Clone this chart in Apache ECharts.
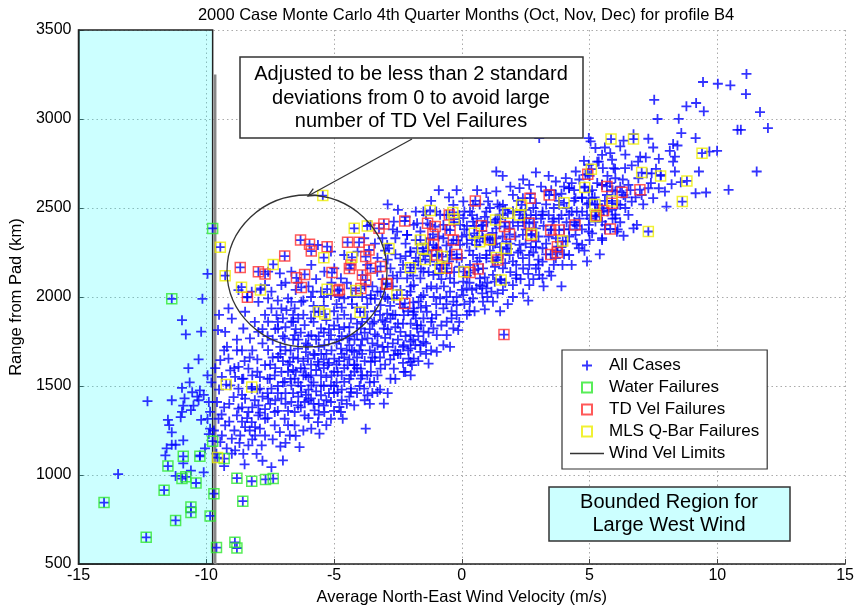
<!DOCTYPE html>
<html>
<head>
<meta charset="utf-8">
<title>2000 Case Monte Carlo 4th Quarter</title>
<script src="https://cdn.jsdelivr.net/npm/echarts@6/dist/echarts.min.js"></script>
<style>
html, body { margin: 0; padding: 0; background: #fff; }
#main { width: 857px; height: 611px; }
</style>
</head>
<body>
<div id="main"></div>
<script>
// axes
var xMin = -15, xMax = 15, xStep = 5;
var yMin = 500, yMax = 3500, yStep = 500;

// bounded west-wind region and wind limit line
var boundedRegionX = [-15, -9.75];
var windVelLimit = [[-9.65, 500], [-9.65, 3250]];

// all cases (points that are not also a failure)
var allCasesOnly = [
  // inside bounded region
  [-12.3,1415],[-13.45,1005],[-11.35,1420],[-10.95,1490],[-10.65,1520],[-10.55,1465],[-10.35,1440],[-10.25,1475],
  [-10.9,1390],[-10.95,1355],[-10.6,1365],[-10.5,1390],[-10.2,1310],[-9.95,1315],[-9.85,1355],[-9.9,1410],
  [-10.1,1450],[-11.5,1310],[-11.45,1280],[-11.35,1240],[-11.55,1150],[-11.35,1170],[-11.2,1170],[-11.6,1110],
  [-10.9,1195],[-10.9,1065],[-10.6,1025],[-10.1,1015],[-10.25,1110],[-11.0,1325],[-9.8,1520],[-10.3,1420],
  [-10.85,1430],[-11.2,995],[-10.95,1870],[-10.8,1790],[-10.2,1805],[-10.15,1990],[-9.95,2130],[-10.7,1600],
  [-10.3,1650],[-10.05,1150],[-9.9,1230],[-9.85,1260],[-9.95,1560],
  // left part of the cloud
  [-9.54,1814],[-9.26,1804],[-9.19,1720],[-9.45,1645],[-9.06,1588],[-9.39,1551],[-8.87,1551],[-9.58,1410],
  [-8.93,1438],[-8.8,1335],[-9.26,1279],[-9.45,1185],[-9.0,1204],[-8.67,1222],[-8.55,1119],[-8.03,1119],
  [-7.45,1044],[-7.0,1082],[-8.48,1269],[-8.09,1269],[-8.35,1354],[-8.74,1373],[-7.96,1391],[-8.48,1429],
  [-9.13,1654],[-8.74,1607],[-8.35,1598],[-8.55,1823],[-8.29,1767],[-7.96,1804],[-7.58,1861],[-7.25,1898],
  [-7.45,1936],[-6.86,1926],[-6.54,1936],[-6.6,1861],[-6.15,1842],[-6.93,1767],[-7.58,1701],[-7.19,1663],
  [-7.7,1617],[-7.32,1560],[-6.73,1635],[-6.41,1710],[-6.02,1729],[-5.76,1673],[-6.15,1598],[-6.54,1541],
  [-6.93,1523],[-7.45,1485],[-7.06,1429],[-6.67,1410],[-6.28,1466],[-5.89,1504],[-5.51,1560],[-5.25,1617],
  [-4.99,1654],[-4.73,1710],[-4.47,1767],[-5.12,1786],[-5.51,1823],[-4.86,1879],[-4.34,1879],[-3.95,1823],
  [-3.69,1767],[-3.43,1861],[-3.05,1823],[-2.79,1879],[-2.4,1804],[-2.27,1729],[-1.88,1654],[-2.66,1673],
  [-3.05,1692],[-3.56,1635],[-3.95,1598],[-4.34,1560],[-4.6,1523],[-4.86,1466],[-5.12,1410],[-5.38,1354],
  [-5.63,1297],[-6.15,1335],[-6.41,1391],[-6.54,1279],[-6.93,1316],[-7.32,1354],[-7.7,1316],[-8.09,1222],
  [-7.7,1222],[-7.12,1241],[-6.73,1222],[-6.35,1157],[-5.57,1232],[-4.73,1354],[-4.34,1466],[-3.76,1260],
  [-3.05,1401],[-3.82,1485],[-3.43,1523],[-3.3,1466],[-2.79,1541],[-2.27,1579],[-2.01,1635],[-3.69,1448],
  [-4.21,1391],[-4.66,1316],[-5.12,1316],[-4.79,1382],[-6.15,1410],[-5.76,1363],[-7.83,1166],[-8.35,1166],
  [-8.87,1138],[-9.39,1222],[-9.52,1316],[-5.76,1917],[-6.28,1973],[-6.8,1992],[-7.45,2030],[-7.96,1973],
  [-8.48,1917],[-9.0,1879],[-9.13,1936],[-7.19,1823],[-6.54,1786],[-5.89,1786],[-5.38,1729],[-4.21,1692],
  [-3.95,1729],[-3.3,1729],[-3.82,1917],[-3.18,1954],[-2.66,1992],[-2.14,2011],[-1.88,1917],[-1.75,1823],
  [-1.62,1729],[-2.27,1898],[-2.92,1907],[-4.6,1992],[-4.34,2048],[-3.56,2011],[-5.12,2011],[-5.51,2030],
  [-7.06,2067],[-7.7,2067],[-8.74,2039],[-6.67,1861],[-5.63,1635],[-4.86,1579],[-4.21,1617],[-6.02,1654],
  [-6.41,1654],[-5.51,1504],[-6.67,1504],[-7.06,1579],[-7.51,1541],[-7.9,1485],[-8.22,1485],[-8.55,1541],
  [-8.74,1485],[-9.06,1504],[-7.58,1429],[-7.96,1335],[-8.22,1297],[-7.32,1279],[-6.54,1354],[-5.89,1260],
  [-5.51,1448],[-5.12,1504],[-4.47,1617],[-3.95,1541],[-3.56,1579],[-4.34,1485],[-3.18,1598],[-2.66,1598],
  [-6.3,1600],[-6.8,1580],[-7.2,1500],[-6.4,1520],[-5.9,1560],[-5.7,1590],[-6.1,1690],[-6.7,1700],
  [-7.0,1640],[-5.3,1680],[-5.0,1580],[-4.8,1640],[-4.5,1700],[-4.1,1660],[-3.8,1640],[-3.6,1700],
  [-3.2,1660],[-2.9,1720],[-2.5,1760],[-2.2,1780],[-2.0,1850],[-2.5,1850],[-3.0,1770],[-3.4,1790],
  [-3.8,1800],[-4.2,1760],[-4.6,1830],[-5.0,1840],[-5.3,1870],[-4.1,1940],[-3.4,1920],[-2.8,1950],
  [-2.4,1960],[-1.9,1970],[-1.5,1880],[-1.3,1800],[-1.4,1950],[-1.1,2000],[-5.9,1430],[-5.4,1390],
  [-6.9,1460],[-7.3,1420],[-7.7,1370],[-8.1,1420],[-7.9,1550],[-8.0,1650],[-7.4,1760],[-6.9,1830],
  [-6.3,1800],[-5.7,1760],[-5.2,1760],[-4.9,1740],[-4.4,1830],[-3.7,1880],[-3.1,1870],[-2.6,1830],
  [-9.5,1480],[-9.3,1380],[-9.1,1300],[-8.9,1250],[-9.6,1120],[-9.2,1150],[-8.7,1180],[-8.4,1320],
  [-8.2,1380],[-8.6,1450],[-8.9,1600],[-8.6,1700],[-8.3,1660],[-8.0,1580],[-7.8,1440],[-7.6,1320],
  [-7.4,1200],[-7.9,1260],[-8.2,1200],[-7.5,1620],[-7.8,1740],[-8.1,1860],[-8.8,1760],[-9.3,1700],
  [-9.5,1900],[-8.4,2000],[-7.7,1900],[-7.3,1820],[-7.1,1720],[-7.4,1660],[-7.6,1460],[-7.2,1360],
  [-7.1,1160],[-7.8,1080],[-8.5,1060],[-9.3,1050],[-9.7,1250],[-9.65,1600],
  [-6.9,1180],[-6.5,1220],[-6.2,1250],[-6.0,1320],[-6.8,1360],[-6.4,1440],[-6.0,1480],[-5.8,1400],
  [-5.6,1340],[-5.3,1280],[-5.0,1360],[-4.7,1420],[-4.5,1400],[-4.9,1520],[-5.3,1550],[-5.6,1620],
  [-5.9,1620],[-6.2,1560],[-6.6,1660],[-6.9,1700],[-6.4,1760],[-6.0,1780],[-5.6,1720],[-5.4,1800],
  [-5.1,1700],[-4.7,1780],[-4.4,1730],[-4.2,1580],[-4.0,1500],[-4.6,1600],[-4.9,1620],[-5.2,1460],
  [-5.7,1470],[-6.3,1380],[-6.8,1280],[-7.0,1520],[-6.2,1900],[-5.9,1880],[-5.4,1950],[-5.0,1920],
  [-4.6,1900],[-4.3,1960],[-4.8,2000],[-6.5,2040],[-6.0,2060],[-7.2,1980],[-6.9,2080],[-5.7,2100],
  [-5.1,2080],[-4.5,2080],[-4.0,1700],[-4.1,1850],[-4.7,1940],[-5.8,1950],[-6.6,1900],[-6.2,1980],
  [-6.0,1550],[-5.5,1680],[-5.0,1500],[-4.4,1650],[-6.6,1590],[-6.1,1450],[-5.4,1600],[-4.8,1760],
  [-4.1,1790],
  [-8.8,1700],[-8.5,1640],[-8.2,1560],[-8.6,1380],[-8.3,1250],[-7.9,1350],[-7.5,1400],[-7.3,1600],
  [-7.6,1780],[-7.0,1780],[-6.8,1620],[-6.5,1580],[-6.2,1640],[-5.8,1680],[-5.4,1650],[-5.1,1560],
  [-4.7,1560],[-4.4,1540],[-4.1,1600],[-3.7,1560],[-3.4,1640],[-3.1,1720],[-2.7,1740],[-2.3,1720],
  [-2.0,1750],[-3.9,1680],[-4.3,1700],[-4.7,1680],[-5.2,1630],[-5.6,1780],[-6.1,1740],[-6.5,1820],
  [-7.0,1880],[-6.4,1880],[-5.8,1860],[-5.2,1820],[-4.8,1820],[-4.4,1780],[-3.9,1760],[-3.5,1850],
  [-3.0,1860],[-2.7,1900],[-2.3,1940],[-1.9,1900],[-1.6,1940],[-2.9,1990],[-3.3,2030],[-3.8,2060],
  [-4.3,2000],[-4.9,1960],[-5.4,2000],[-5.9,2000],[-6.4,2080],[-7.2,1860],[-7.8,1820],[-8.2,1700],
  [-8.6,1540],[-9.1,1400],[-9.4,1340],[-9.0,1120],[-8.6,1300],[-8.0,1480],[-7.6,1540],[-7.2,1460],
  [-6.9,1400],[-6.6,1460],[-6.3,1500],[-6.0,1420],[-5.6,1400],[-5.3,1420],[-5.0,1460],[-4.7,1480],
  [-4.4,1440],[-4.1,1460],[-3.8,1420],[-3.5,1460],[-5.8,1520],[-5.4,1500],[-6.1,1560],[-6.7,1540],
  [-7.1,1680],[-6.6,1760],[-4.6,1660],[-4.2,1620],[-3.4,1690],[-2.5,1680],
  // upper band inside / right of the circle
  [-7.87,2048],[-8.22,2030],[-7.58,1992],[-7.12,2133],[-6.67,2142],[-5.89,2180],[-5.63,2292],[-5.12,2255],
  [-5.38,2142],[-4.99,2161],[-4.73,2105],[-5.83,2030],[-6.67,1973],[-7.06,1936],[-4.6,2236],[-4.08,2255],
  [-3.82,2330],[-3.57,2405],[-3.11,2330],[-2.92,2292],[-2.66,2424],[-2.53,2367],[-2.14,2349],[-1.75,2414],
  [-1.5,2255],[-2.01,2255],[-2.4,2217],[-2.79,2161],[-3.31,2142],[-3.18,2030],[-3.57,1992],[-2.53,2105],
  [-2.01,2142],[-1.5,2142],[-0.98,2180],[-0.46,2236],[-0.07,2405],[0.32,2480],[0.57,2292],[0.96,2236],
  [1.35,2330],[1.48,2508],[2.0,2480],[2.39,2442],[3.16,2480],[3.68,2574],[4.2,2611],[4.46,2705],
  [4.97,2743],[5.36,2761],[4.07,2668],[4.97,2893],[5.23,2837],[3.03,2893],[1.35,2705],[-7.58,2142],
  // middle of the cloud
  [-3.9,1560],[-3.6,1520],[-3.3,1560],[-3.0,1620],[-2.8,1650],[-2.6,1700],[-2.4,1680],[-2.1,1700],
  [-1.9,1760],[-1.7,1780],[-1.4,1740],[-1.2,1700],[-3.5,1660],[-3.3,1780],[-3.6,1820],[-3.9,1860],
  [-3.2,1900],[-2.9,1820],[-2.6,1900],[-2.3,1850],[-2.1,1920],[-1.8,1880],[-1.6,1840],[-1.2,1860],
  [-1.0,1900],[-1.6,2000],[-2.0,2060],[-2.4,2040],[-2.7,2060],[-3.0,2000],[-3.4,1990],[-3.7,1960],
  [-3.9,2000],[-3.5,2060],[-3.1,2100],[-2.7,2120],[-2.3,2180],[-1.9,2120],[-1.7,2200],[-1.3,2140],
  [-1.2,2060],[-0.8,2100],[-0.9,2240],[-1.3,2260],[-3.7,2180],[-3.3,2220],[-2.9,2210],[-2.2,2230],
  [-3.5,1740],[-2.8,1790],[-2.3,1630],[-2.6,1540],[-3.2,1480],[-3.6,1400],[-2.9,1460],[-2.0,1560],
  [-1.7,1640],[-1.4,1680],
  [-2.6,2240],[-2.2,2300],[-1.8,2320],[-1.4,2300],[-1.0,2280],[-0.6,2290],[-0.2,2320],[0.2,2300],
  [0.6,2340],[1.0,2330],[1.3,2300],[1.8,2270],[2.2,2250],[2.7,2280],[3.3,2300],[3.7,2260],
  [4.0,2240],[-1.8,2220],[-1.2,2230],[-0.5,2200],[0.0,2220],[0.6,2200],[1.2,2200],[1.7,2190],
  [2.4,2160],[3.0,2180],[-2.4,2140],[-1.6,2160],[-0.9,2130],[-0.3,2140],[0.3,2080],[0.8,2060],
  [1.5,2100],[2.0,2000],[1.0,2000],[0.0,2040],[-0.6,2000],[-1.0,1960],[-0.4,1920],[0.3,1920],
  [2.8,2100],[3.2,2060],[-3.4,2300],[-3.0,2260],[-2.6,2330],[0.1,2380],[0.5,2400],[0.9,2450],
  [1.3,2420],[1.6,2460],[2.0,2420],[2.4,2420],[2.7,2460],[3.1,2440],[3.5,2380],[3.9,2460],
  [4.3,2480],[4.6,2440],[4.1,2420],[4.9,2520],[5.2,2560],[5.0,2440],[5.4,2460],[5.7,2480],
  [6.1,2520],[6.4,2560],[6.2,2620],[5.8,2640],[4.8,2620],[4.4,2540],[3.8,2540],[3.3,2520],
  [2.8,2500],[2.3,2480],[1.4,2520],[0.7,2520],[-0.1,2460],[-0.6,2460],[-1.4,2460],[-2.2,2450],
  [-2.7,2380],[4.5,2400],[4.2,2380],[3.6,2440],[5.6,2380],[6.1,2380],
  [0.96,2584],[0.06,2537],[1.61,2518],[2.26,2612],[2.9,2527],[3.29,2593],[3.68,2649],[4.2,2612],
  [4.45,2555],[4.97,2593],[5.49,2630],[6.01,2593],[3.81,2518],[4.2,2462],[4.71,2480],[5.23,2424],
  [5.62,2405],[4.97,2368],[4.45,2349],[4.07,2311],[4.71,2293],[5.49,2330],[3.16,2462],[2.9,2386],
  [2.52,2443],[2.0,2480],[1.48,2462],[0.96,2480],[0.44,2424],[0.06,2443],[-0.33,2518],[-0.85,2462],
  [-1.5,2480],[-1.88,2405],[-2.14,2349],[-1.75,2274],[-1.24,2330],[-0.72,2330],[-0.07,2293],[0.19,2349],
  [0.83,2330],[1.22,2293],[1.74,2311],[2.26,2293],[2.64,2236],[3.16,2274],[3.16,2199],[2.64,2180],
  [2.13,2180],[1.61,2161],[0.96,2218],[0.44,2236],[-0.2,2218],[-0.72,2180],[-1.24,2199],[-1.88,2180],
  [-2.14,2105],[-1.62,2105],[-1.11,2124],[-0.46,2105],[0.06,2086],[0.71,2105],[1.22,2124],[2.13,2124],
  [2.64,2067],[-2.01,2030],[-1.5,2011],[-0.98,2049],[-0.46,2030],[0.06,2011],[0.57,2049],[1.22,1974],
  [-1.88,1936],[-1.37,1917],[-0.72,1936],[-0.2,1955],[-1.75,1842],[-1.11,1823],[-0.59,1861],[-2.01,1786],
  [-1.5,1748],[-0.98,1786],[-0.33,1823],[-2.01,1711],[-0.72,1729],[-2.08,1654],[-1.62,1692],[-2.21,1579],
  [2.0,2067],[3.16,2105],[3.42,2142],[3.68,2218],[3.94,2180],[4.2,2236],[4.58,2274],[3.03,2124],
  [1.61,2039],[0.96,2049],[0.32,1974],[0.83,1974],[-0.2,1898],[6.01,2462],[5.49,2499],[4.97,2527],
  [3.55,2424],[3.68,2330],[2.39,2349],[1.87,2386],[1.35,2386],[0.83,2405],[-0.72,2405],[-1.24,2405],
  [-1.62,2368],[-0.98,2274],[-0.46,2255],[0.32,2180],[0.83,2161],[-1.5,2236],[-2.01,2255],[1.87,2236],
  [2.39,2218],[2.9,2311],[2.0,2574],[2.39,2555],[1.35,2593],[1.03,2537],[0.44,2518],[2.64,2630],
  [-1.88,2067],[-1.37,2049],[-0.85,1992],[-0.33,1974],[-1.69,1974],[-1.17,1880],[-0.59,1786],[-0.14,1814],
  [-1.5,1805],[-1.82,1730],[-0.98,1692],[-1.3,1626],[-0.46,1720],[-1.95,1617],[0.19,2049],[0.44,1992],
  [1.16,2030],[2.13,2105],[1.29,2086],[0.71,2067],
  [-0.8,1840],[-0.4,1880],[-0.1,1860],[0.2,1900],[0.5,1920],[0.9,1930],[-0.6,1960],[-0.2,2000],
  [0.1,1960],[0.4,2040],[0.8,2020],[1.0,2080],[1.4,2020],[1.7,2080],[1.9,2140],[2.3,2100],
  [2.6,2130],[2.9,2160],[2.4,2020],[1.8,1960],[1.5,1920],[-0.7,2060],[-0.3,2080],[0.2,2120],
  [0.5,2150],[0.9,2110],[1.3,2170],[1.6,2240],[2.0,2200],[2.3,2260],[2.8,2250],[3.0,2210],
  [-0.6,2140],[-0.1,2170],[0.3,2260],[0.7,2220],[1.1,2260],[1.5,2280],[1.9,2300],[2.5,2300],
  [2.9,2280],[-0.4,2300],[0.0,2340],[0.4,2320],[0.8,2370],[1.2,2360],[1.6,2340],[2.1,2340],
  [2.5,2380],[2.8,2420],[3.2,2400],[3.4,2340],[3.0,2340],[0.2,2400],[0.6,2440],[1.0,2420],
  [1.4,2440],[1.7,2420],[2.2,2400],[-0.6,2380],[-0.9,2340],[-0.3,2420],[0.4,2460],[1.1,2500],
  [1.7,2490],[2.5,2490],[2.9,2460],[3.4,2460],[3.6,2500],[-1.0,2480],[-0.5,2560],[0.1,2480],
  [2.2,2540],[2.7,2580],[3.1,2620],[3.5,2600],[3.9,2580],[4.3,2640],[3.4,2680],[2.9,2700],
  [2.4,2660],[1.9,2620],[0.6,2600],[-0.2,2600],[-1.2,2540],[-1.8,2480],[-2.5,2490],[-2.9,2520],
  [-0.9,2600],[1.6,2680],
  [3.3,2240],[3.6,2180],[3.9,2280],[4.2,2340],[4.5,2300],[4.8,2260],[5.0,2320],[4.4,2420],
  [4.7,2380],[4.0,2380],[3.8,2440],[4.1,2500],[4.5,2480],[4.9,2460],[5.3,2520],[5.6,2540],
  [5.9,2440],[6.2,2420],[6.4,2500],[5.1,2600],[4.7,2560],[4.4,2600],[4.0,2620],[4.6,2660],
  [5.0,2680],[5.3,2640],[5.7,2680],[6.0,2720],[6.3,2660],[6.6,2600],[6.8,2560],[7.1,2520],
  [7.4,2640],[7.6,2720],[6.9,2760],[6.4,2800],[5.6,2840],[5.3,2760],[5.9,2600],[4.3,2180],
  [4.9,2200],[5.4,2240],[3.5,2120],[3.9,2060],[2.6,1980],
  // right part of the cloud
  [11.14,3253],[9.44,3208],[10.02,3198],[10.51,3189],[11.12,3140],[7.53,3108],[8.79,3071],[9.17,3090],
  [9.47,3043],[11.67,3039],[7.66,3000],[8.49,3001],[10.79,2939],[10.92,2939],[11.98,2949],[8.59,2921],
  [6.72,2915],[7.3,2889],[9.15,2893],[6.33,2878],[5.04,2874],[6.2,2846],[7.49,2840],[8.27,2859],
  [8.44,2851],[9.69,2817],[9.99,2821],[8.14,2821],[6.98,2789],[7.71,2776],[8.34,2789],[7.2,2784],
  [5.88,2771],[4.78,2765],[8.27,2761],[9.28,2705],[11.54,2705],[5.52,2724],[6.65,2739],[6.39,2724],
  [7.43,2695],[7.79,2686],[8.21,2634],[8.57,2645],[7.71,2611],[9.15,2583],[9.56,2587],[10.44,2602],
  [7.49,2555],[8.01,2508],[6.85,2405],[6.33,2344],[5.49,2320],[5.1,2358],[6.52,2461],[6.01,2442],
  [5.49,2423],[4.97,2405],[6.65,2536],[6.2,2517],[6.91,2667],[7.3,2611],[6.52,2630],[6.01,2667],
  [5.49,2630],[5.1,2555],[5.68,2573],[5.23,2480],[5.88,2489],[6.33,2573],[7.04,2573],[7.24,2695],
  [7.95,2592],[8.34,2705],[5.81,2808],[5.49,2799],[5.94,2724],[4.84,2686],[6.72,2386],[6.07,2367],
  [4.71,2555]
];

var waterFailures = [
  [-14.0,845],[-12.35,650],[-11.65,915],[-11.2,745],[-10.6,820],[-10.6,790],[-10.4,955],[-10.95,980],
  [-10.8,990],[-11.5,1050],[-10.9,1105],[-10.25,1105],[-9.85,770],[-9.7,895],[-9.6,592],[-9.75,1190],
  [-8.88,622],[-8.8,590],[-8.8,982],[-8.22,965],[-7.68,975],[-7.38,980],[-8.57,853],[-9.3,1092],
  [-11.35,1990],[-9.75,2385]
];

var tdVelFailures = [
  [-8.67,2166],[-8.39,1998],[-7.96,2142],[-7.7,2129],[-6.93,2230],[-6.47,2108],[-6.15,2127],[-6.31,2320],
  [-5.96,2296],[-5.89,2258],[-6.28,2054],[-5.27,2283],[-5.08,2137],[-4.79,2042],[-4.47,2307],[-4.02,2307],
  [-4.34,2180],[-4.4,2160],[-3.76,2227],[-3.63,2264],[-3.89,2123],[-3.76,2095],[-3.57,2161],[-3.18,2172],
  [-3.24,2386],[-3.05,2410],[-2.92,2076],[-2.23,2427],[-2.23,1964],[-1.34,2414],[-1.04,2396],[-1.13,2352],
  [-1.11,2292],[-0.98,2236],[-0.49,2461],[-0.46,2376],[-0.33,2320],[-0.2,2239],[-0.59,2161],[0.53,2540],
  [0.77,2400],[1.12,2323],[0.64,2157],[0.32,2137],[1.67,2396],[1.87,2352],[1.41,2208],[2.67,2555],
  [2.64,2414],[2.71,2346],[3.42,2573],[3.48,2376],[3.81,2376],[3.74,2283],[3.48,2239],[3.74,2250],
  [4.43,2405],[5.27,2458],[5.55,2486],[5.68,2621],[5.88,2527],[5.81,2382],[1.65,1789],[4.93,2690],
  [6.27,2588],[6.97,2603],[-4.86,2035],[-3.95,2048],[-2.95,2071]
];

var mlsQBarFailures = [
  [-9.26,2120],[-8.62,2055],[-7.88,2040],[-7.38,2183],[-5.44,2570],[-5.4,2221],[-4.3,2223],[-4.21,2386],
  [-3.7,2399],[-5.27,2044],[-4.15,2036],[-3.98,1915],[-5.6,1917],[-5.36,1904],[-2.85,2273],[-2.54,2011],
  [-1.62,2320],[-1.53,2273],[-1.24,2486],[-1.43,2210],[-0.76,2227],[-0.35,2475],[-0.3,2438],[0.49,2358],
  [0.7,2311],[1.08,2322],[1.32,2433],[1.35,2222],[1.54,2095],[1.8,2470],[2.34,2517],[2.26,2461],
  [2.74,2354],[4.0,2529],[3.95,2314],[4.81,2615],[5.21,2519],[5.23,2452],[5.88,2540],[-0.85,2161],
  [0.08,2142],[1.74,2273],[-2.01,2165],[5.84,2887],[6.72,2887],[5.07,2718],[7.04,2699],[7.78,2680],
  [8.81,2652],[9.4,2808],[8.63,2536],[7.3,2368],[-9.56,1098],[-9.45,2280],[-9.22,1508],[-8.22,1495]
];

var allCases = allCasesOnly.concat(waterFailures, tdVelFailures, mlsQBarFailures);

var fontFam = '"Liberation Sans", Arial, sans-serif';
var plusSymbol = 'path://M4.1,0h1.8v4.1h4.1v1.8h-4.1v4.1h-1.8v-4.1h-4.1v-1.8h4.1z';
var squareSymbol = 'path://M0,0h10v10h-10z';
var lineIcon = 'path://M0,0h40v1.6h-40z';

function squareSeries(name, data, color) {
  return {
    name: name,
    type: 'scatter',
    data: data,
    symbol: squareSymbol,
    symbolSize: 10,
    itemStyle: { color: 'rgba(0,0,0,0)', borderColor: color, borderWidth: 1.5 },
    z: 4
  };
}

function plainNum(v) { return String(v); }

var chart = echarts.init(document.getElementById('main'));
var option = {
  animation: false,
  title: {
    text: '2000 Case Monte Carlo 4th Quarter Months (Oct, Nov, Dec) for profile B4',
    left: 461,
    top: 2,
    textAlign: 'center',
    textStyle: { fontSize: 16.5, fontWeight: 'normal', color: '#000', fontFamily: fontFam }
  },
  grid: { left: 76, right: 11, top: 30, bottom: 47 },
  legend: {
    left: 562,
    top: 350,
    orient: 'vertical',
    padding: [6, 8, 6, 8],
    itemGap: 3,
    itemWidth: 34,
    itemHeight: 10,
    borderColor: '#333',
    borderWidth: 1.2,
    backgroundColor: '#fff',
    textStyle: { fontSize: 17, lineHeight: 19, color: '#000', fontFamily: fontFam },
    data: ['All Cases', 'Water Failures', 'TD Vel Failures', 'MLS Q-Bar Failures',
      { name: 'Wind Vel Limits', icon: lineIcon, itemStyle: { color: '#333', borderWidth: 0 } }]
  },
  xAxis: {
    type: 'value',
    min: xMin, max: xMax, interval: xStep,
    name: 'Average North-East Wind Velocity (m/s)',
    nameLocation: 'middle',
    nameGap: 25,
    nameTextStyle: { fontSize: 16.5, color: '#000', fontFamily: fontFam },
    axisLine: { onZero: false, lineStyle: { color: '#222', width: 1.5 } },
    axisTick: { inside: true, length: 5, lineStyle: { color: '#444' } },
    axisLabel: { fontSize: 16, color: '#000', margin: 4, fontFamily: fontFam, formatter: plainNum },
    splitLine: { show: true, lineStyle: { color: '#aaa', type: [1.5, 3], width: 1 } }
  },
  yAxis: {
    type: 'value',
    min: yMin, max: yMax, interval: yStep,
    name: 'Range from Pad (km)',
    nameLocation: 'middle',
    nameGap: 46,
    nameTextStyle: { fontSize: 16.5, color: '#000', fontFamily: fontFam },
    axisLine: { show: true, onZero: false, lineStyle: { color: '#222', width: 1.5 } },
    axisTick: { show: true, inside: true, length: 5, lineStyle: { color: '#444' } },
    axisLabel: { fontSize: 16, color: '#000', margin: 7, fontFamily: fontFam, formatter: plainNum },
    splitLine: { show: true, lineStyle: { color: '#aaa', type: [1.5, 3], width: 1 } }
  },
  series: [
    {
      name: 'Wind Vel Limits',
      type: 'line',
      data: windVelLimit,
      symbol: 'none',
      lineStyle: { color: '#888', width: 2.5 },
      z: 1,
      markArea: {
        silent: true,
        itemStyle: { color: 'rgba(0,255,255,0.2)', borderColor: '#222', borderWidth: 1.5 },
        data: [[{ xAxis: boundedRegionX[0], yAxis: yMin }, { xAxis: boundedRegionX[1], yAxis: yMax }]]
      }
    },
    {
      name: 'All Cases',
      type: 'scatter',
      data: allCases,
      symbol: plusSymbol,
      symbolSize: 10,
      itemStyle: { color: '#0000ff', opacity: 0.8 },
      z: 3
    },
    squareSeries('Water Failures', waterFailures, '#2ee82e'),
    squareSeries('TD Vel Failures', tdVelFailures, '#ff3030'),
    squareSeries('MLS Q-Bar Failures', mlsQBarFailures, '#eeee00')
  ],
  graphic: [
    // call-out text box
    {
      type: 'rect', z: 20,
      shape: { x: 240, y: 57, width: 343, height: 81 },
      style: { fill: '#fff', stroke: '#333', lineWidth: 1.5 }
    },
    {
      type: 'text', z: 21, x: 411, y: 63,
      style: {
        text: 'Adjusted to be less than 2 standard\ndeviations from 0 to avoid large\nnumber of TD Vel Failures',
        fontSize: 20, fontFamily: fontFam, fill: '#000', textAlign: 'center', lineHeight: 23.5
      }
    },
    {
      type: 'line', z: 20,
      shape: { x1: 412, y1: 139, x2: 308, y2: 196 },
      style: { stroke: '#333', lineWidth: 1.3 }
    },
    {
      type: 'polyline', z: 20,
      shape: { points: [[317, 195.4], [308, 196], [313.3, 188.7]] },
      style: { stroke: '#333', lineWidth: 1.3, fill: null }
    },
    {
      type: 'ellipse', z: 20,
      shape: { cx: 307, cy: 271, rx: 80, ry: 76 },
      style: { fill: null, stroke: '#333', lineWidth: 1.3 }
    },
    // bounded region label
    {
      type: 'rect', z: 20,
      shape: { x: 549, y: 487, width: 241, height: 54 },
      style: { fill: '#ccffff', stroke: '#333', lineWidth: 1.5 }
    },
    {
      type: 'text', z: 21, x: 669, y: 491,
      style: {
        text: 'Bounded Region for\nLarge West Wind',
        fontSize: 20, fontFamily: fontFam, fill: '#000', textAlign: 'center', lineHeight: 23
      }
    }
  ]
};
chart.setOption(option);
</script>
</body>
</html>
